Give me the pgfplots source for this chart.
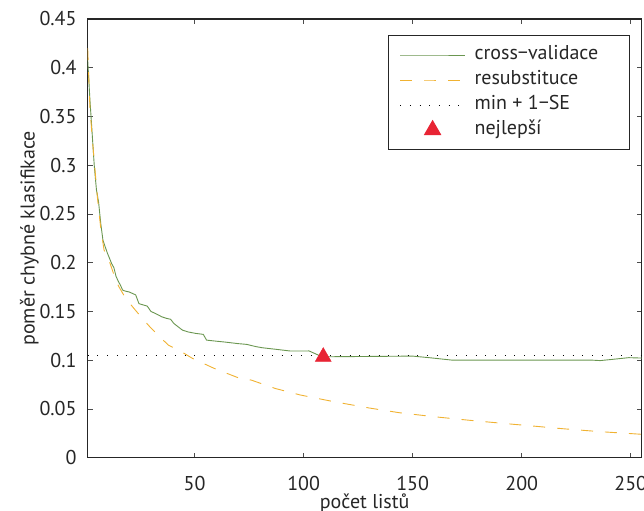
\documentclass[border=0pt]{standalone}
\usepackage{fontspec}
\setmainfont{PT Sans}
\usepackage{pgfplots}
\pgfplotsset{compat=1.18}
\definecolor{cvgreen}{RGB}{106,150,80}
\definecolor{resorange}{RGB}{240,178,50}
\definecolor{bestred}{RGB}{232,36,52}
\begin{document}
\fontsize{20}{24}\selectfont
\begin{tikzpicture}
\begin{axis}[
  scale only axis,
  width=554pt, height=438.7pt,
  xmin=1, xmax=255, ymin=0, ymax=0.45,
  xtick={50,100,150,200,250},
  ytick={0,0.05,0.1,0.15,0.2,0.25,0.3,0.35,0.4,0.45},
  yticklabels={0,0.05,0.1,0.15,0.2,0.25,0.3,0.35,0.4,0.45},
  /pgf/number format/assume math mode=true,
  tick align=inside,
  major tick length=5pt,
  axis line style={line width=1.2pt, black!85},
  every tick/.style={black!70, line width=0.8pt},
  tick label style={font=\fontsize{20}{24}\selectfont, text=black!85},
  yticklabel style={inner xsep=0pt, xshift=-11pt},
  xticklabel style={inner ysep=0pt, yshift=-18pt},
  xlabel={počet listů},
  ylabel={poměr chybné klasifikace},
  label style={font=\fontsize{20}{24}\selectfont, text=black!85},
  xlabel style={yshift=3pt},
  ylabel style={yshift=-6pt},
  legend cell align=left,
  legend style={at={(1,1)}, anchor=north east, xshift=-12pt, yshift=-16pt,
    draw=black!85, line width=1pt, font=\fontsize{20}{24}\selectfont,
    inner xsep=11pt, inner ysep=7pt, row sep=0pt, column sep=7pt,
    nodes={inner xsep=2pt, inner ysep=3pt, text height=14pt, text depth=5pt, text=black!85}},
  legend image code/.code={\draw[mark repeat=2,mark phase=2,#1] plot coordinates {(0pt,0pt) (32.5pt,0pt) (65pt,0pt)};},
]
\addplot[cvgreen, line width=0.9pt] coordinates {
(1,0.408) (2,0.368) (3,0.334) (4,0.30) (5,0.275) (6,0.262) (7,0.240) (8,0.223)
(10,0.210) (12,0.199) (13,0.195) (14,0.186) (15,0.181) (16,0.177) (17,0.172)
(18,0.171) (20,0.170) (23,0.167) (24.5,0.158) (26,0.157) (28.3,0.1555) (30,0.150)
(32,0.148) (35,0.1445) (37,0.143) (39,0.142) (40.5,0.1377) (44.4,0.1309) (47,0.129)
(50.5,0.1275) (54,0.1265) (55.5,0.1206) (60,0.1195) (64,0.1186) (70,0.117)
(74,0.1162) (78,0.114) (81,0.1128) (88,0.111) (94,0.1094) (102.5,0.1095)
(106,0.106) (108.5,0.1035) (150,0.1042) (158,0.1025) (168,0.1001) (232,0.1001)
(236,0.0996) (240,0.1005) (249,0.1026) (255,0.1022)};
\addlegendentry{cross\textminus validace\rule{18pt}{0pt}}
\addplot[resorange, line width=0.9pt, dash pattern=on 12pt off 12pt] coordinates {
(1,0.42) (2,0.36) (3,0.33) (3.5,0.317) (5.5,0.266) (7,0.235) (8.5,0.213) (11,0.201)
(13.9,0.182) (15.4,0.175) (18,0.165) (21.5,0.155) (26,0.143) (30,0.133) (34,0.124)
(38,0.1155) (44,0.1087) (49,0.1019) (59,0.0916) (70,0.082) (76,0.0796) (87,0.071)
(98.5,0.0643) (114,0.0574) (130,0.051) (144,0.0461) (160,0.042) (175,0.0386)
(190,0.0355) (205,0.0325) (220,0.0295) (236,0.0267) (255,0.024)};
\addlegendentry{resubstituce}
\addplot[black, line width=0.9pt, dash pattern=on 0.9pt off 8.8pt] coordinates {(1,0.1052) (255,0.1052)};
\addlegendentry{min + 1\textminus SE}
\addplot[only marks, mark=triangle*, mark size=9.2pt, bestred, mark options={draw=bestred, fill=bestred}] coordinates {(109,0.1035)};
\addlegendentry{nejlepší}
\coordinate (sw) at (rel axis cs:0,0);
\coordinate (ne) at (rel axis cs:1,1);
\end{axis}
\pgfresetboundingbox
\path ([xshift=-87.7pt,yshift=-53.3pt]sw) rectangle ([xshift=2.3pt,yshift=19pt]ne);
\end{tikzpicture}
\end{document}
